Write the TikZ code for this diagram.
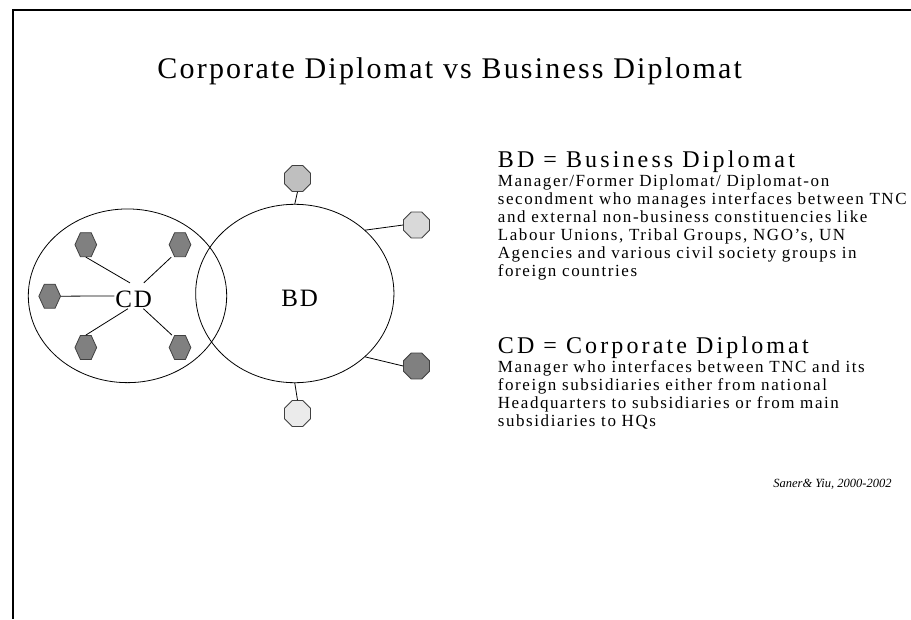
\documentclass[tikz,border=0pt]{standalone}
\usepackage{fontspec}
\setmainfont{Liberation Serif}
\newfontfamily\spacedfont[LetterSpace=7.3]{Liberation Serif}
\newfontfamily\headfont[LetterSpace=13]{Liberation Serif}
\newfontfamily\bodyfont[LetterSpace=9.3]{Liberation Serif}
\usetikzlibrary{shapes.geometric}
\setlength{\lineskiplimit}{-100pt}

\begin{document}
\begin{tikzpicture}[x=1pt, y=-1pt, line width=0.8pt,
    zone/.style={draw, ellipse, inner sep=0pt},
    hexfill/.style={draw=black!75, fill=black!50},
    hexa/.style={rectangle, minimum width=21.7pt, minimum height=24pt, inner sep=0pt},
    octa/.style={draw=black!75, regular polygon, regular polygon sides=8,
        minimum size=28pt, inner sep=0pt},
    tag/.style={font=\spacedfont\fontsize{25}{30}\selectfont},
    head/.style={font=\headfont\fontsize{24}{28}\selectfont, inner sep=0pt, anchor=base west},
    body/.style={font=\bodyfont\fontsize{17}{18}\selectfont,
        inner sep=0pt, anchor=base west, text width=420pt, align=left}]
        \fill[white] (0,0) rectangle (911,619);
        \useasboundingbox (0,0) rectangle (911,619);
        \draw[line width=2pt] (911,10) -- (13,10) -- (13,619);

        \node[font=\spacedfont\fontsize{30}{36}\selectfont, anchor=base]
            (title) at (449.7,78.3) {Corporate Diplomat vs Business Diplomat};

        % the two circles
        \node[zone, minimum width=198.4pt, minimum height=173.7pt] (cdzone) at (127.5,295.8) {};
        \node[zone, minimum width=198.3pt, minimum height=178.4pt] (bd) at (294.8,293.5) {};
        \node[tag, text height=23.7pt, text depth=1.3pt, inner xsep=0.7pt, inner ysep=0pt]
            (cd) at (133.7,295.8) {CD};
        \node[tag, anchor=base] (bdlabel) at (299.7,306.7) {BD};

        % subsidiaries round CD
        \foreach \name/\x/\y in {hexTL/85.8/244.7, hexTR/180/244.7, hexL/49.7/296.2,
            hexBL/85.8/347.5, hexBR/180/347.5}{
            \filldraw[hexfill] (\x-10.85,\y) -- (\x-5.4,\y-12) -- (\x+5.4,\y-12)
                -- (\x+10.85,\y) -- (\x+5.4,\y+12) -- (\x-5.4,\y+12) -- cycle;
            \node[hexa] (\name) at (\x,\y) {};
        }
        \draw (hexTL.south) -- (cd.106.5);
        \draw (hexTR.235) -- (cd.52.5);
        \draw (hexL.east) -- (cd);
        \draw (hexBL.north) -- (cd.246.6);
        \draw (hexBR.123.6) -- (cd.307.5);

        % outside groups round BD
        \node[octa, fill=black!25] (bdtop) at (297.5,178.5) {};
        \node[octa, fill=black!15] (bdne) at (416.5,225) {};
        \node[octa, fill=black!50] (bdse) at (416.5,366) {};
        \node[octa, fill=black!8] (bdbot) at (297.5,413.5) {};
        \draw (bdtop.south) -- (bd.north);
        \draw (bdne.west) -- (bd.42);
        \draw (bdse.west) -- (bd.-42);
        \draw (bd.south) -- (bdbot.north);

        % definitions
        \node[head] (bdhead) at (497.5,167.5) {BD = Business Diplomat};
        \node[body] (bdtext) at (497.5,186.5) {Manager/Former Diplomat/ Diplomat-on\\
            secondment who manages interfaces between TNC\\
            and external non-business constituencies like\\
            Labour Unions, Tribal Groups, NGO’s, UN\\
            Agencies and various civil society groups in\\
            foreign countries};
        \node[head] (cdhead) at (497.5,353.5) {CD = Corporate Diplomat};
        \node[body] (cdtext) at (497.5,372.5) {Manager who interfaces between TNC and its\\
            foreign subsidiaries either from national\\
            Headquarters to subsidiaries or from main\\
            subsidiaries to HQs};
        \node[font=\fontsize{12.5}{14}\selectfont\itshape, inner sep=0pt, anchor=base east]
            (credit) at (892,487) {Saner\& Yiu, 2000-2002};
\end{tikzpicture}
\end{document}
